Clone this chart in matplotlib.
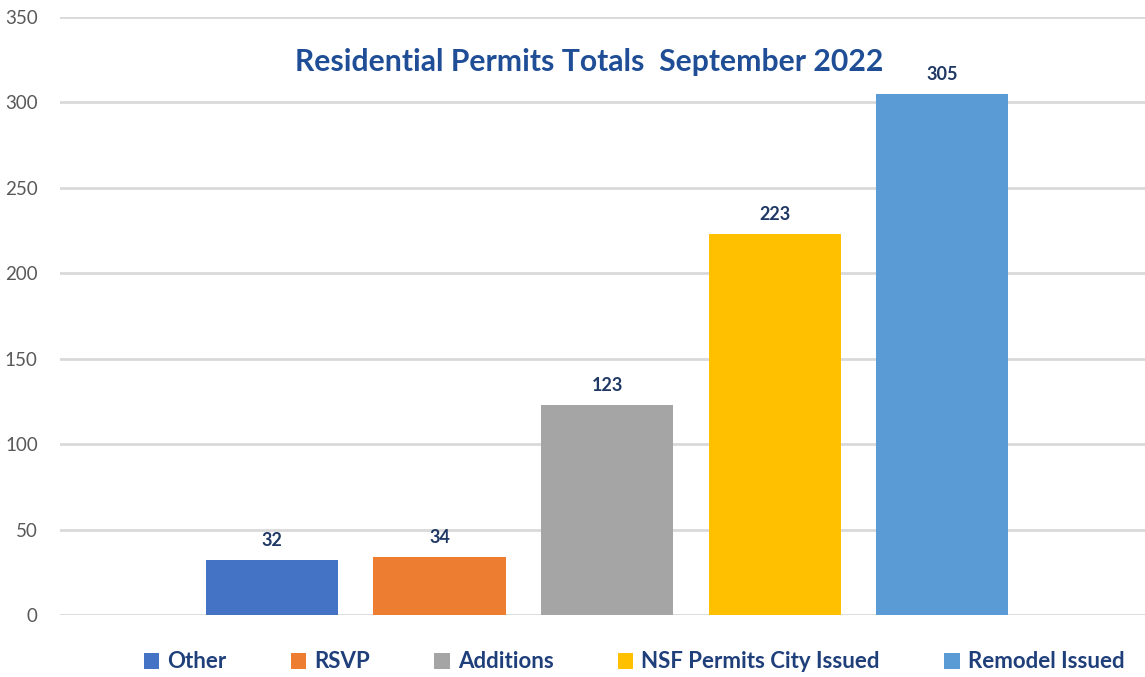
import numpy as np
import matplotlib
matplotlib.use('Agg')
import matplotlib.pyplot as plt
from matplotlib.patches import Patch

plt.rcParams['font.family'] = ['Lato', 'DejaVu Sans']

# data
categories = ['Other', 'RSVP', 'Additions', 'NSF Permits City Issued', 'Remodel Issued']
values = [32, 34, 123, 223, 305]
colors = ['#4472C4', '#ED7D31', '#A5A5A5', '#FFC000', '#5B9BD5']
yticks = [0, 50, 100, 150, 200, 250, 300, 350]

W, H = 1145, 677
fig = plt.figure(figsize=(W / 100, H / 100), dpi=100)
ax = fig.add_axes([60 / W, 1 - 615 / H, (W - 60) / W, (615 - 17) / H])

x = np.arange(len(values))
bars = ax.bar(x, values, width=0.79, color=colors, zorder=3)

for xi, v in zip(x, values):
    ax.annotate(str(v), (xi, v), xytext=(0, 8), textcoords='offset points',
                ha='center', va='bottom', fontsize=13, fontweight='bold', color='#1F3864')

ax.set_xlim(-1.266, 5.21)
ax.set_ylim(0, 350)
ax.set_yticks(yticks)
ax.set_xticks([])
ax.yaxis.grid(True, color='#D9D9D9', linewidth=2, zorder=0)
ax.tick_params(axis='y', length=0, pad=16, labelsize=13.5, labelcolor='#595959')
for s in ax.spines.values():
    s.set_visible(False)

fig.text(589 / W, 1 - 62 / H, 'Residential Permits Totals  September 2022',
         ha='center', va='center', fontsize=21.7, fontweight='bold', color='#1F4E96')

handles = [Patch(facecolor=c) for c in colors]
leg = fig.legend(handles, categories, loc='center', bbox_to_anchor=(634 / W, 1 - 662 / H),
                 ncol=5, frameon=False, handlelength=0.7, handleheight=0.7,
                 handletextpad=0.35, columnspacing=2.9,
                 prop={'size': 16, 'weight': 'bold'})
for t in leg.get_texts():
    t.set_color('#1F3F7A')

fig.savefig('out.png', dpi=100)
